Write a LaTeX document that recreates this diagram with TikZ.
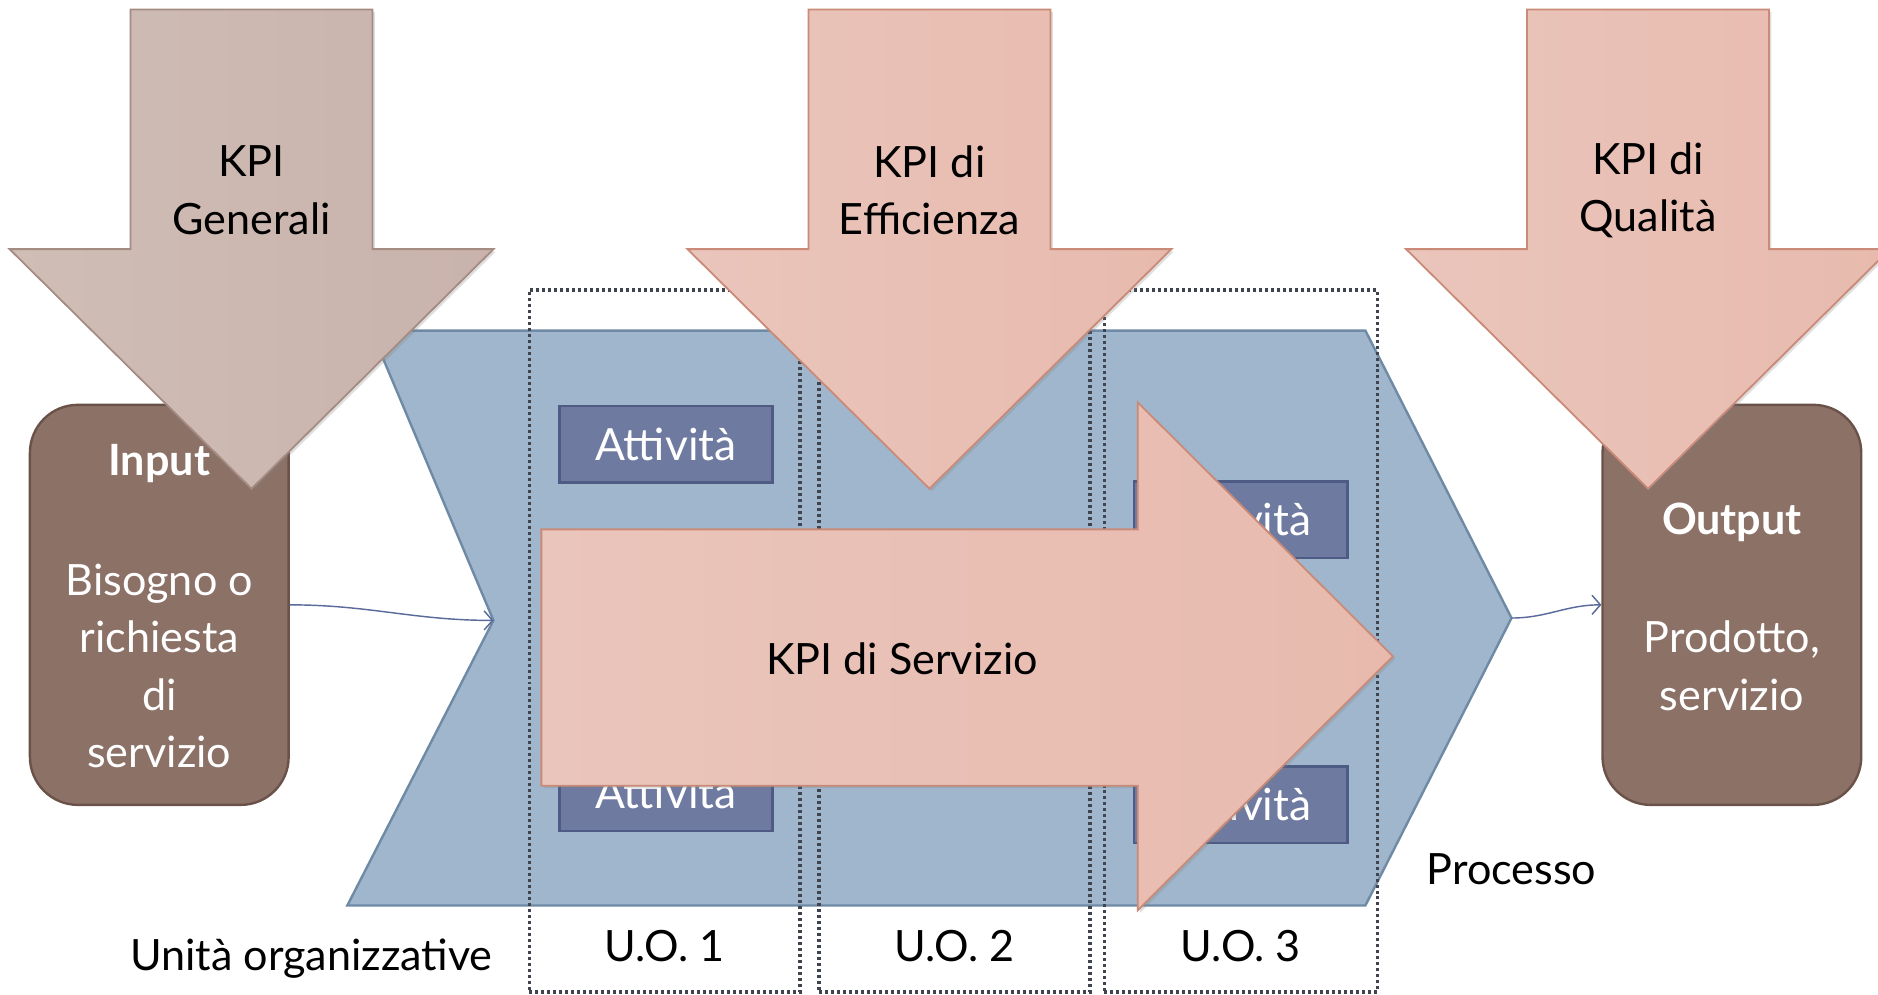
\documentclass[tikz,border=0pt]{standalone}
\usepackage{fontspec}
\setmainfont{Lato}
\usetikzlibrary{arrows.meta,shadows}
\definecolor{procF}{HTML}{A0B6CC}
\definecolor{procD}{HTML}{6E8AA5}
\definecolor{attF}{HTML}{6F7AA0}
\definecolor{attD}{HTML}{4E5B84}
\definecolor{ioF}{HTML}{8C7167}
\definecolor{ioD}{HTML}{6B5249}
\definecolor{genL}{HTML}{CFBDB6}
\definecolor{genM}{HTML}{C2A69E}
\definecolor{genR}{HTML}{C9B3AC}
\definecolor{genD}{HTML}{A58C82}
\definecolor{salL}{HTML}{EAC5BB}
\definecolor{salM}{HTML}{E0A896}
\definecolor{salR}{HTML}{E8BAAE}
\definecolor{salD}{HTML}{C98A78}
\definecolor{connC}{HTML}{5A6A9A}
\definecolor{dotC}{HTML}{40444F}
\begin{document}
\begin{tikzpicture}[x=1pt,y=-1pt,
  txt/.style={font=\fontsize{36}{48}\selectfont, align=center, inner sep=0pt, text=black},
  wtxt/.style={txt, text=white},
  btxt/.style={txt, text=white, font=\fontsize{36}{48}\selectfont\bfseries},
  procshape/.style={fill=procF, draw=procD, line width=2pt, line join=miter},
  uobox/.style={draw=dotC, line width=3pt, dash pattern=on 2.5pt off 2.5pt, minimum width=226pt, minimum height=586pt, inner sep=0pt},
  iobox/.style={fill=ioF, draw=ioD, line width=2pt, rounded corners=40pt, minimum width=216pt, minimum height=334pt, inner sep=0pt},
  attbox/.style={fill=attF, draw=attD, line width=2pt, minimum width=178pt, minimum height=64pt, inner sep=0pt, text=white, font=\fontsize{37}{44}\selectfont},
  conn/.style={draw=connC, line width=1.2pt, -{Straight Barb[length=7pt,width=16pt,line width=1.2pt]}},
  genarrow/.style={left color=genL, middle color=genM, right color=genR, draw=genD, line width=1.5pt, line join=miter,
    drop shadow={opacity=0.25, shadow xshift=2pt, shadow yshift=-2pt}},
  salarrow/.style={left color=salL, middle color=salM, right color=salR, draw=salD, line width=1.5pt, line join=miter,
    drop shadow={opacity=0.25, shadow xshift=2pt, shadow yshift=-2pt}},
]
\useasboundingbox (0,0) rectangle (1568,830);
\fill[white] (0,0) rectangle (1568,830);

% process chevron
\draw[procshape] (310,276) -- (1140,276) -- (1262,516) -- (1140,756) -- (290,756) -- (412,518) -- cycle;
\coordinate (notch) at (412,518);
\coordinate (ptip) at (1262,516);

% organisational units
\node[uobox] (uo1) at (555,535) {};
\node[uobox] (uo2) at (797,535) {};
\node[uobox, minimum width=228pt] (uo3) at (1036,535) {};
\node[txt] (luo1) at (555,790) {U.O. 1};
\node[txt] (luo2) at (797,790) {U.O. 2};
\node[txt] (luo3) at (1036,790) {U.O. 3};
\node[txt] (lunits) at (260,800) {Unità organizzative};
\node[txt] (lproc) at (1262,726) {Processo};

% input / output
\node[iobox] (in) at (133,505) {};
\node[iobox] (out) at (1446,505) {};
\node[btxt] (lin) at (133,387) {Input};
\node[wtxt] (lin2) at (133,556) {Bisogno o\\richiesta\\di\\servizio};
\node[btxt] (lout) at (1446,436) {Output};
\node[wtxt] (lout2) at (1446,556) {Prodotto,\\servizio};

% connectors
\draw[conn] (in.east) to[out=0,in=180] (notch);
\draw[conn] (ptip) to[out=0,in=180] (out.west);

% activities
\node[attbox] (a1) at (556,371) {Attività};
\node[attbox] (a2) at (556,662) {Attività};
\node[attbox] (a3) at (1036,434) {Attività};
\node[attbox] (a4) at (1036,672) {Attività};

% KPI di Servizio
\path[salarrow] (452,442) -- (950,442) -- (950,336) -- (1163,548) -- (950,760) -- (950,656) -- (452,656) -- cycle;
\node[txt] (tserv) at (753,550) {KPI di Servizio};

% down arrows
\path[salarrow] (675,8) -- (877,8) -- (877,208) -- (978,208) -- (776,408) -- (574,208) -- (675,208) -- cycle;
\node[txt] (teff) at (776,159) {KPI di\\Efficienza};
\path[genarrow] (109,8) -- (311,8) -- (311,208) -- (412,208) -- (210,408) -- (8,208) -- (109,208) -- cycle;
\node[txt] (tgen) at (210,159) {KPI\\Generali};
\path[salarrow] (1275,8) -- (1477,8) -- (1477,208) -- (1578,208) -- (1376,408) -- (1174,208) -- (1275,208) -- cycle;
\node[txt] (tqual) at (1376,159) {KPI di\\Qualità};
\end{tikzpicture}
\end{document}
